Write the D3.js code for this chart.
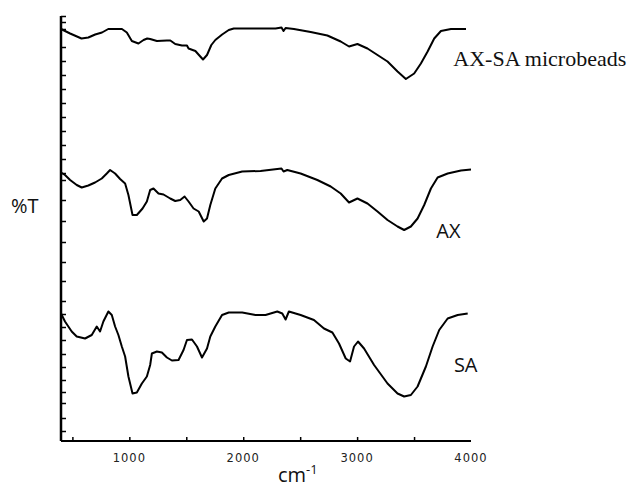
<!DOCTYPE html>
<html>
<head>
<meta charset="utf-8">
<script src="https://cdn.jsdelivr.net/npm/d3@7"></script>
<style>
  body { margin: 0; background: #fff; }
</style>
</head>
<body>
<div id="chart"></div>
<script>
// spectra: [wavenumber cm-1, %T (offset, arbitrary)]
const beads = [
  [400, 82.4], [480, 81.5], [580, 80.5], [640, 80.7], [700, 81.3], [760, 81.7], [815, 82.4],
  [935, 82.4], [978, 81.7], [1022, 80.0], [1080, 79.5], [1125, 80.2], [1157, 80.5], [1183, 80.4],
  [1242, 80.0], [1330, 80.1], [1360, 80.1], [1403, 79.4], [1462, 79.1], [1506, 79.1], [1520, 78.5],
  [1580, 78.0], [1623, 76.9], [1647, 76.3], [1682, 77.2], [1720, 79.2], [1755, 80.2], [1815, 81.3],
  [1873, 82.2], [1917, 82.5], [2152, 82.5], [2284, 82.5], [2336, 82.7], [2354, 82.0], [2372, 82.6],
  [2445, 82.4], [2592, 81.8], [2739, 81.1], [2856, 79.9], [2929, 78.9], [3003, 79.4], [3091, 78.5],
  [3179, 77.2], [3267, 75.9], [3355, 73.9], [3428, 72.4], [3501, 73.5], [3560, 75.5], [3619, 77.9],
  [3677, 80.5], [3736, 82.0], [3824, 82.4], [3956, 82.4]
];
const ax = [
  [400, 53.7], [435, 53.2], [480, 52.2], [538, 51.2], [582, 50.7], [640, 51.1], [699, 51.7],
  [758, 52.5], [802, 53.5], [831, 54.2], [875, 53.5], [919, 52.4], [963, 51.5], [992, 49.2],
  [1028, 45.2], [1066, 45.2], [1116, 46.5], [1154, 47.9], [1183, 50.2], [1212, 50.5], [1256, 49.5],
  [1300, 49.3], [1359, 48.5], [1403, 48.0], [1447, 48.2], [1485, 48.9], [1520, 47.9], [1564, 46.5],
  [1609, 45.9], [1653, 43.9], [1682, 44.5], [1711, 47.2], [1755, 50.5], [1814, 52.5], [1873, 53.2],
  [1991, 53.9], [2152, 54.0], [2299, 54.4], [2336, 54.5], [2354, 53.9], [2387, 54.2], [2504, 53.5],
  [2651, 52.2], [2768, 50.9], [2856, 49.5], [2929, 47.7], [3003, 48.5], [3091, 47.5], [3179, 45.9],
  [3267, 44.2], [3355, 42.9], [3413, 42.2], [3472, 42.9], [3531, 44.5], [3589, 47.2], [3648, 50.5],
  [3707, 52.7], [3795, 53.5], [3912, 54.1], [4000, 54.3]
];
const sa = [
  [400, 25.5], [435, 23.9], [494, 21.9], [538, 20.9], [611, 20.5], [670, 21.2], [714, 22.9],
  [743, 21.9], [772, 23.9], [816, 25.9], [846, 25.2], [875, 22.9], [904, 21.2], [934, 18.9],
  [963, 16.9], [992, 12.9], [1028, 9.5], [1066, 9.7], [1110, 11.5], [1154, 12.9], [1183, 15.2],
  [1198, 17.5], [1242, 17.9], [1286, 17.7], [1330, 16.7], [1374, 16.1], [1432, 16.2], [1476, 18.2],
  [1506, 20.2], [1550, 20.3], [1594, 18.9], [1638, 16.7], [1682, 18.5], [1711, 20.9], [1755, 22.9],
  [1814, 25.2], [1873, 25.7], [1991, 25.7], [2108, 25.2], [2196, 25.2], [2299, 25.9], [2343, 25.5],
  [2372, 24.3], [2401, 25.9], [2504, 25.2], [2621, 24.2], [2709, 22.5], [2783, 21.7], [2841, 19.5],
  [2900, 16.5], [2938, 15.9], [2973, 18.9], [3008, 19.9], [3061, 18.5], [3149, 15.2], [3267, 11.5],
  [3355, 9.5], [3413, 8.9], [3472, 9.2], [3531, 10.9], [3604, 14.9], [3663, 18.9], [3721, 22.2],
  [3795, 24.5], [3883, 25.2], [3971, 25.5]
];

const xTicks = [500, 1000, 1500, 2000, 2500, 3000, 3500];
const xTickLabels = [1000, 2000, 3000, 4000];
const yTicks = [85, 83.8, 82.4, 78.8, 76, 73.2, 70.4, 67.6, 64.8, 62, 59.2, 56.4, 53.6, 52.2,
  48.2, 44, 39.8, 35.8, 32, 28, 25.4, 22.8, 20.2, 17.4, 14.8, 12.2, 9.8, 7.6, 4.6, 2];

const seriesLabels = [
  { name: 'AX-SA microbeads', x: 3845, y: 75, font: '"Liberation Serif", "Times New Roman", serif', size: 22 },
  { name: 'AX', x: 3695, y: 40.6, font: '"Open Sans", "Liberation Sans", sans-serif', size: 20 },
  { name: 'SA', x: 3850, y: 13.8, font: '"Open Sans", "Liberation Sans", sans-serif', size: 20 }
];

const width = 630;
const height = 488;
const [mt, mr, mb, ml] = [16, 160, 47, 61];

const svg = d3.select('#chart')
  .append('svg')
  .attr('width', width)
  .attr('height', height)
  .attr('viewBox', [0, 0, width, height])

const x = d3.scaleLinear()
  .domain([400, 4000])
  .range([ml, width - mr + 1])

const y = d3.scaleLinear()
  .domain([0, 85])
  .range([height - mb, mt])

// axes
const xAxisG = svg.append('g')
  .attr('transform', `translate(0, ${height - mb})`)
xAxisG.call(d3.axisTop(x).tickValues(xTicks).tickSize(4).tickFormat(''))
xAxisG.select('.domain')
  .attr('d', `M${ml},0H${x(4000)}`)
  .attr('stroke-width', 2)
xAxisG.selectAll('.tick line').attr('stroke-width', 1.5)

xAxisG.selectAll('.lbl')
  .data(xTickLabels)
  .enter()
  .append('text')
  .attr('class', 'lbl')
  .attr('x', d => x(d))
  .attr('y', 21)
  .attr('text-anchor', 'middle')
  .attr('font-family', '"DejaVu Sans", sans-serif')
  .attr('font-size', 11.5)
  .attr('letter-spacing', 1)
  .attr('fill', '#222')
  .text(d => d)

const yAxisG = svg.append('g')
  .attr('transform', `translate(${ml}, 0)`)
yAxisG.call(d3.axisRight(y).tickValues(yTicks).tickSize(5).tickFormat(''))
yAxisG.select('.domain')
  .attr('d', `M0,${y(0)}V${y(85)}`)
  .attr('stroke-width', 2.5)
yAxisG.selectAll('.tick line').attr('stroke-width', 1.5)

// spectra
const line = d3.line()
  .x(d => x(d[0]))
  .y(d => y(d[1]))

;[beads, ax, sa].forEach(s => {
  svg.append('path')
    .attr('fill', 'none')
    .attr('stroke', '#000')
    .attr('stroke-width', 2)
    .attr('stroke-linejoin', 'round')
    .attr('d', line(s))
})

// series names
svg.selectAll('.series-name')
  .data(seriesLabels)
  .enter()
  .append('text')
  .attr('class', 'series-name')
  .attr('x', d => x(d.x))
  .attr('y', d => y(d.y))
  .attr('font-family', d => d.font)
  .attr('font-size', d => d.size)
  .attr('fill', '#111')
  .text(d => d.name)

// axis titles
svg.append('text')
  .attr('x', 11)
  .attr('y', 213)
  .attr('font-family', '"Open Sans", "Liberation Sans", sans-serif')
  .attr('font-size', 20)
  .attr('fill', '#111')
  .text('%T')

const xTitle = svg.append('text')
  .attr('x', 278)
  .attr('y', 482)
  .attr('font-family', '"Open Sans", "Liberation Sans", sans-serif')
  .attr('font-size', 20)
  .attr('fill', '#111')
xTitle.append('tspan').text('cm')
xTitle.append('tspan')
  .attr('dy', -8)
  .attr('font-size', 13)
  .text('-1')
</script>
</body>
</html>
